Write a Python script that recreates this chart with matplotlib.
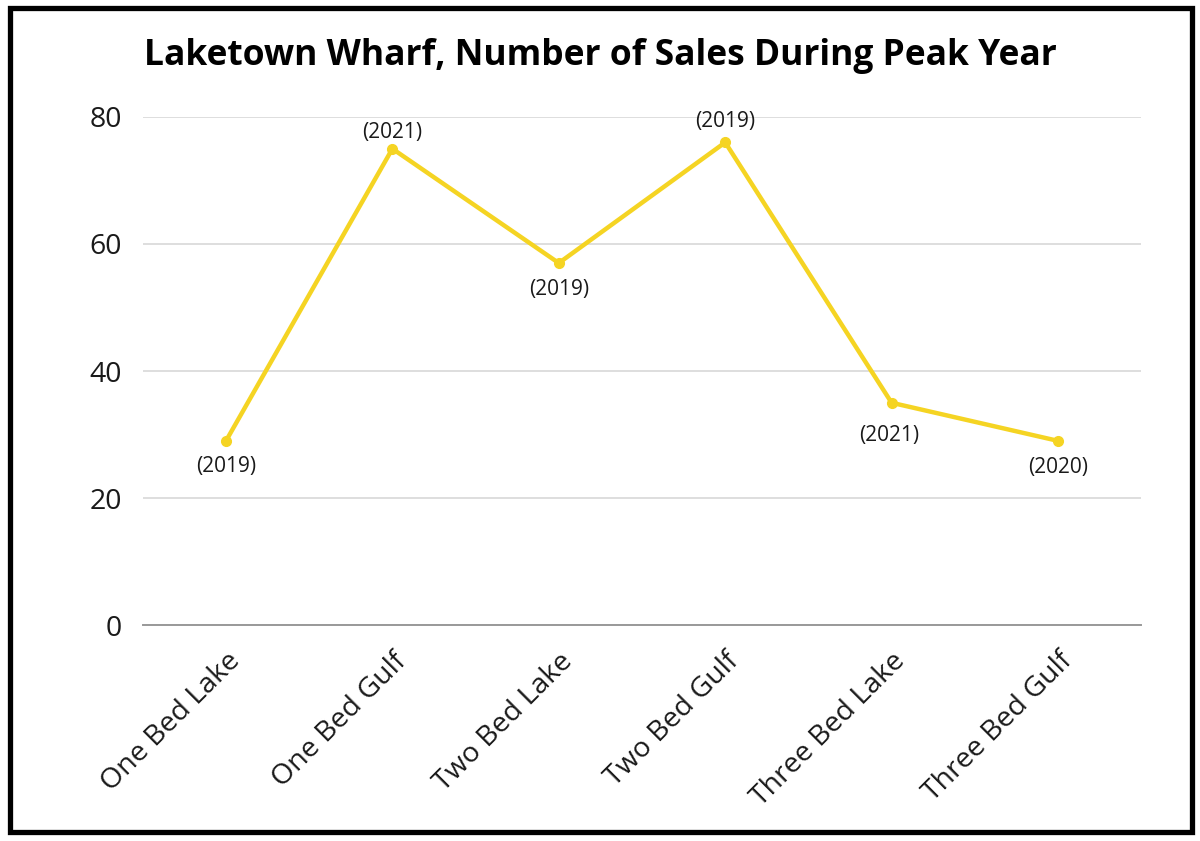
import matplotlib
matplotlib.use("Agg")
import matplotlib.pyplot as plt
from matplotlib.patches import Rectangle

categories = ["One Bed Lake", "One Bed Gulf", "Two Bed Lake", "Two Bed Gulf", "Three Bed Lake", "Three Bed Gulf"]
sales = [29, 75, 57, 76, 35, 29]
peak_years = ["(2019)", "(2021)", "(2019)", "(2019)", "(2021)", "(2020)"]
yticks = [0, 20, 40, 60, 80]

# label placement (pixels; positive = below the point)
label_offsets_px = [26, -16, 26, -21, 33, 27]
label_dx_px = [0, 0, 0, 0, -2, 0]

plt.rcParams['font.family'] = ['Open Sans', 'DejaVu Sans']

fig = plt.figure(figsize=(12, 8.41), dpi=100)
ax = fig.add_axes([0.119, 0.2568, 0.832, 0.6041])

line_color = "#F5D423"
x = list(range(len(categories)))
ax.plot(x, sales, color=line_color, linewidth=3.2, marker="o", markersize=7, zorder=3, clip_on=False)

for xi, yi, lab, dy, dx in zip(x, sales, peak_years, label_offsets_px, label_dx_px):
    ax.annotate(lab, (xi, yi), xytext=(dx * 0.72, -dy * 0.72), textcoords="offset points",
                ha="center", va="center", fontsize=15, color="#1a1a1a")

ax.set_xlim(-0.5, len(categories) - 0.5)
ax.set_ylim(0, 80)
ax.set_yticks(yticks)
ax.set_xticks(x)
ax.set_xticklabels(categories, rotation=45, ha="right", rotation_mode="anchor", fontsize=20.5)
ax.tick_params(axis="y", labelsize=20.5, length=0, pad=15, colors="#1a1a1a")
ax.tick_params(axis="x", length=0, pad=16, colors="#1a1a1a")
ax.yaxis.grid(True, color="#d4d4d4", linewidth=1.1)
ax.set_axisbelow(True)
for s in ["top", "right", "left"]:
    ax.spines[s].set_visible(False)
ax.spines["bottom"].set_color("#999999")
ax.spines["bottom"].set_linewidth(1.4)
ax.spines["bottom"].set_zorder(2)

fig.text(0.5, 0.934, "Laketown Wharf, Number of Sales During Peak Year", ha="center", va="center",
         fontsize=25.5, fontweight="bold", color="#000000")

fig.patches.append(Rectangle((9.5 / 1200, 1 - 832 / 841), (1192 - 9.5) / 1200, (832 - 7.5) / 841,
                             transform=fig.transFigure, fill=False, edgecolor="black", linewidth=3.8))

fig.savefig("out.png", dpi=100, facecolor="white")
